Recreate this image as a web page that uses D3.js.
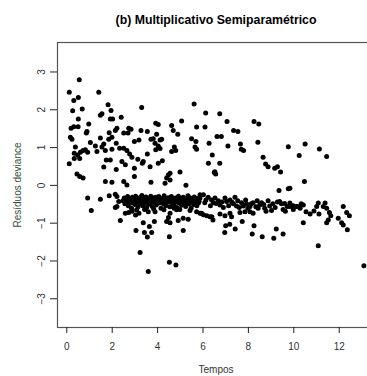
<!DOCTYPE html>
<html>
<head>
<meta charset="utf-8">
<script src="https://cdn.jsdelivr.net/npm/d3@7"></script>
<style>
body { margin: 0; background: #fff; }
svg { display: block; }
</style>
</head>
<body>
<div id="chart"></div>
<script>
// tick labels
var xTicks = [0, 2, 4, 6, 8, 10, 12];
var yTicks = [-3, -2, -1, 0, 1, 2, 3];

// [tempo, residuo] pairs
// upper cloud (positive residuals)
var acima = [
	[0.57,2.78],[0.13,2.45],[1.43,2.45],[0.33,2.23],[0.53,2.31],[0.28,1.96],[0.70,2.01],[1.84,2.12],
	[1.97,1.97],[0.53,1.74],[1.50,1.84],[1.57,1.88],[1.94,1.74],[2.04,1.74],[2.42,1.79],[0.21,1.50],
	[0.33,1.54],[0.52,1.54],[0.99,1.61],[0.88,1.37],[0.91,1.41],[0.18,1.26],[0.25,1.21],[2.23,1.50],
	[2.16,1.44],[1.89,1.38],[2.01,1.26],[1.87,1.21],[2.53,1.37],[2.72,1.37],[2.75,1.50],[2.85,1.47],
	[1.50,1.24],[1.06,1.12],[1.65,1.08],[1.57,1.00],[1.28,1.03],[2.20,1.10],[2.35,0.97],[2.53,0.97],
	[2.67,0.91],[2.79,0.82],[2.89,0.73],[2.01,0.94],[1.72,0.91],[1.35,0.88],[0.84,0.93],[0.94,0.86],
	[0.40,1.00],[0.35,0.84],[0.50,0.79],[0.62,0.86],[0.74,0.91],[0.35,0.70],[0.59,0.70],[0.13,0.56],
	[1.76,0.66],[1.94,0.66],[1.65,0.47],[2.20,0.41],[2.45,0.62],[2.60,0.53],[3.00,0.44],[3.00,0.22],
	[0.47,0.29],[0.59,0.22],[0.74,0.18],[1.72,0.09],[2.01,0.07],[2.53,0.09],[2.67,0.00],[3.00,1.15],
	[3.32,2.05],[5.63,2.14],[6.14,1.90],[3.94,1.63],[4.05,1.60],[4.64,1.57],[5.08,1.69],[5.74,1.53],
	[6.11,1.53],[3.29,1.44],[3.57,1.41],[4.71,1.44],[4.91,1.34],[3.98,1.34],[3.20,1.19],[3.73,1.21],
	[3.83,1.22],[4.13,1.19],[4.20,1.21],[3.91,1.10],[4.05,1.03],[4.13,0.96],[3.94,0.93],[5.52,1.22],
	[5.71,1.15],[5.67,1.00],[5.74,0.94],[6.29,1.10],[6.43,0.79],[4.76,1.00],[4.82,0.91],[4.64,0.88],
	[3.57,0.82],[3.15,0.68],[3.35,0.57],[3.39,0.62],[3.69,0.48],[4.05,0.57],[4.23,0.64],[6.26,0.57],
	[6.52,0.33],[5.01,0.34],[4.49,0.26],[4.57,0.31],[4.42,0.18],[4.57,0.13],[4.35,0.04],[3.73,0.07],
	[5.27,-0.01],[6.76,1.88],[7.08,1.68],[8.27,1.68],[8.48,1.61],[7.37,1.44],[7.56,1.41],[6.64,1.28],
	[6.83,1.28],[7.12,1.03],[7.67,1.08],[7.71,0.94],[7.81,0.91],[8.44,1.13],[9.78,1.01],[6.76,0.57],
	[6.54,0.35],[6.58,0.29],[8.67,0.73],[8.78,0.55],[8.89,0.48],[9.18,0.44],[9.30,0.48],[9.44,0.34],
	[9.37,-0.15],[9.78,-0.10],[10.52,1.08],[10.26,0.78],[11.15,0.95],[11.47,0.75],[10.49,0.09],[9.85,-0.09]
];

// the dense band just below zero
var faixa = [
	[2.50,-0.42],[2.55,-0.35],[2.58,-0.50],[2.62,-0.38],[2.66,-0.46],[2.70,-0.31],[2.73,-0.55],[2.77,-0.41],
	[2.80,-0.36],[2.84,-0.48],[2.87,-0.62],[2.91,-0.33],[2.95,-0.44],[2.98,-0.39],[3.02,-0.52],[3.05,-0.30],
	[3.09,-0.45],[3.12,-0.37],[3.16,-0.58],[3.19,-0.42],[3.23,-0.34],[3.26,-0.49],[3.30,-0.40],[3.33,-0.28],
	[3.37,-0.55],[3.40,-0.43],[3.44,-0.36],[3.47,-0.47],[3.51,-0.32],[3.54,-0.60],[3.58,-0.41],[3.61,-0.38],
	[3.65,-0.51],[3.68,-0.44],[3.72,-0.30],[3.75,-0.40],[3.79,-0.57],[3.82,-0.35],[3.86,-0.46],[3.89,-0.42],
	[3.93,-0.33],[3.96,-0.53],[4.00,-0.39],[4.03,-0.45],[4.07,-0.31],[4.10,-0.48],[4.14,-0.40],[4.17,-0.62],
	[4.21,-0.36],[4.24,-0.44],[4.28,-0.50],[4.31,-0.29],[4.35,-0.41],[4.38,-0.55],[4.42,-0.38],[4.45,-0.46],
	[4.49,-0.34],[4.52,-0.43],[4.56,-0.58],[4.59,-0.40],[4.63,-0.31],[4.66,-0.47],[4.70,-0.37],[4.73,-0.52],
	[4.77,-0.42],[4.80,-0.35],[4.84,-0.45],[4.87,-0.60],[4.91,-0.39],[4.94,-0.30],[4.98,-0.48],[5.01,-0.41],
	[5.05,-0.36],[5.08,-0.54],[5.12,-0.44],[5.15,-0.33],[5.19,-0.47],[5.22,-0.40],[5.26,-0.57],[5.29,-0.37],
	[5.33,-0.45],[5.36,-0.29],[5.40,-0.50],[5.43,-0.42],[5.47,-0.35],[5.50,-0.61],[5.54,-0.44],[5.57,-0.39],
	[5.61,-0.52],[5.64,-0.32],[5.68,-0.46],[5.71,-0.41],[5.75,-0.55],[5.78,-0.36],[5.82,-0.48],[5.85,-0.43],
	[2.68,-0.40],[3.00,-0.42],[3.35,-0.45],[3.70,-0.47],[3.98,-0.37],[4.40,-0.45],[4.90,-0.45],[5.20,-0.38],
	[5.60,-0.42],[2.90,-0.70],[3.10,-0.66],[3.45,-0.65],[3.85,-0.64],[4.30,-0.66],[4.75,-0.62],[5.00,-0.65],
	[5.45,-0.68],[2.75,-0.73],[3.05,-0.80],
	[5.89,-0.26],[6.04,-0.26],[5.89,-0.35],[6.15,-0.40],[6.40,-0.40],[6.55,-0.35],[6.48,-0.47],[6.70,-0.42],
	[6.77,-0.53],[6.99,-0.35],[7.06,-0.44],[7.21,-0.40],[7.43,-0.33],[7.36,-0.50],[7.50,-0.56],[7.72,-0.47],
	[7.80,-0.56],[7.94,-0.50],[8.09,-0.57],[8.23,-0.47],[8.41,-0.42],[8.52,-0.53],[8.45,-0.62],[8.74,-0.62],
	[8.89,-0.42],[8.96,-0.56],[9.04,-0.68],[9.40,-0.44],[9.48,-0.50],[9.62,-0.49],[9.73,-0.57],[9.92,-0.56],
	[10.14,-0.57],[10.44,-0.53],[5.89,-0.75],[6.04,-0.79],[6.33,-0.84],[6.77,-0.77],[6.99,-0.82],[7.21,-0.75],
	[7.28,-0.84],[7.65,-0.73],[7.87,-0.71],[8.09,-0.71],[8.23,-0.75],
	[6.10,-0.47],[6.25,-0.33],[6.35,-0.55],[6.60,-0.49],[6.85,-0.45],[6.92,-0.60],[7.15,-0.55],[7.30,-0.46],
	[7.55,-0.42],[7.62,-0.60],[7.90,-0.40],[8.00,-0.62],[8.15,-0.50],[8.35,-0.58],[8.60,-0.47],[8.70,-0.52],
	[8.80,-0.70],[9.10,-0.50],[9.20,-0.60],[9.30,-0.45],[9.55,-0.65],[9.65,-0.70],[9.85,-0.48],[10.00,-0.65],
	[10.30,-0.62],[10.35,-0.50],
	[9.85,-0.57],[10.00,-0.55],[10.20,-0.57],[10.56,-0.71],[10.74,-0.77],[10.91,-0.69],[11.03,-0.57],[11.10,-0.48],
	[11.13,-0.77],[11.40,-0.48],[11.32,-0.57],[11.47,-0.62],[11.59,-0.73],[11.65,-0.82],[12.20,-0.57],[12.35,-0.73],
	[12.47,-0.82]
];

// scattered points below the band
var abaixo = [
	[0.94,-0.35],[1.10,-0.68],[1.50,-0.38],[1.89,-0.29],[2.16,-0.25],[2.23,-0.31],[2.31,-0.44],[2.23,-0.57],
	[2.16,-0.60],[2.38,-0.94],[2.60,-0.75],[3.07,-1.21],[3.20,-0.75],[3.61,-0.71],[3.91,-0.71],[4.57,-0.75],
	[4.50,-0.86],[4.86,-0.66],[5.15,-0.88],[5.37,-0.91],[4.93,-0.94],[5.74,-0.71],[5.96,-0.75],[6.19,-0.82],
	[6.41,-0.84],[3.39,-1.00],[3.66,-1.10],[3.44,-1.26],[3.76,-1.26],[3.57,-1.38],[4.42,-0.97],[4.57,-1.00],
	[3.88,-0.97],[5.15,-1.21],[4.54,-1.37],[3.25,-1.79],[4.54,-2.05],[4.83,-2.12],[3.61,-2.29],[6.46,-0.93],
	[6.98,-1.26],[7.02,-1.08],[7.20,-1.04],[7.44,-1.17],[7.75,-0.97],[8.27,-1.08],[8.19,-1.30],[8.63,-1.37],
	[9.14,-1.41],[9.25,-1.17],[9.55,-1.30],[10.44,-1.00],[11.54,-0.93],[11.47,-1.00],[11.98,-0.88],[12.13,-1.00],
	[12.20,-1.06],[12.38,-1.19],[11.10,-1.61],[13.11,-2.14]
];

var pontos = acima.concat(faixa, abaixo);

var width = 367, height = 376;
var box = { left: 57, top: 42, right: 376, bottom: 327 };

var x = d3.scaleLinear().domain([-0.41, 13.63]).range([57, 375.7]);
var y = d3.scaleLinear().domain([-3.76, 3.78]).range([327, 42]);

var svg = d3.select('#chart').append('svg')
	.attr('width', width)
	.attr('height', height)
	.style('font-family', '"Liberation Sans", Arial, sans-serif');

// points
svg.append('g')
	.selectAll('circle')
	.data(pontos)
	.enter()
	.append('circle')
	.attr('cx', function (d) { return x(d[0]); })
	.attr('cy', function (d) { return y(d[1]); })
	.attr('r', 2.5)
	.attr('fill', '#000');

// plot frame
svg.append('rect')
	.attr('x', box.left + 0.5)
	.attr('y', box.top + 0.5)
	.attr('width', box.right - box.left)
	.attr('height', box.bottom - box.top)
	.attr('fill', 'none')
	.attr('stroke', '#555')
	.attr('stroke-width', 1.2);

// x axis
var xAxis = svg.append('g')
	.attr('transform', 'translate(0,' + box.bottom + ')')
	.call(d3.axisBottom(x).tickValues(xTicks).tickSize(6).tickPadding(10));

// y axis
var yAxis = svg.append('g')
	.attr('transform', 'translate(' + box.left + ',0)')
	.call(d3.axisLeft(y).tickValues(yTicks).tickSize(7));

[xAxis, yAxis].forEach(function (g) {
	g.select('.domain').remove();
	g.selectAll('.tick line').attr('stroke', '#222');
	g.selectAll('.tick text')
		.attr('fill', '#333')
		.style('font-size', '10px')
		.style('font-family', '"Liberation Sans", Arial, sans-serif');
});

//R draws the y labels parallel to the axis
yAxis.selectAll('.tick text')
	.attr('x', 0)
	.attr('dy', 0)
	.attr('text-anchor', 'middle')
	.attr('transform', 'translate(-12.5,0) rotate(-90)');

// title
svg.append('text')
	.attr('x', 216)
	.attr('y', 24)
	.attr('text-anchor', 'middle')
	.attr('fill', '#000')
	.style('font-size', '12.3px')
	.style('font-weight', 'bold')
	.text('(b) Multiplicativo Semiparamétrico');

// axis titles
svg.append('text')
	.attr('x', 216)
	.attr('y', 373)
	.attr('text-anchor', 'middle')
	.attr('fill', '#333')
	.style('font-size', '10px')
	.text('Tempos');

svg.append('text')
	.attr('transform', 'translate(21,185) rotate(-90)')
	.attr('text-anchor', 'middle')
	.attr('fill', '#2f4f3f')
	.style('font-size', '10px')
	.text('Resíduos deviance');
</script>
</body>
</html>
